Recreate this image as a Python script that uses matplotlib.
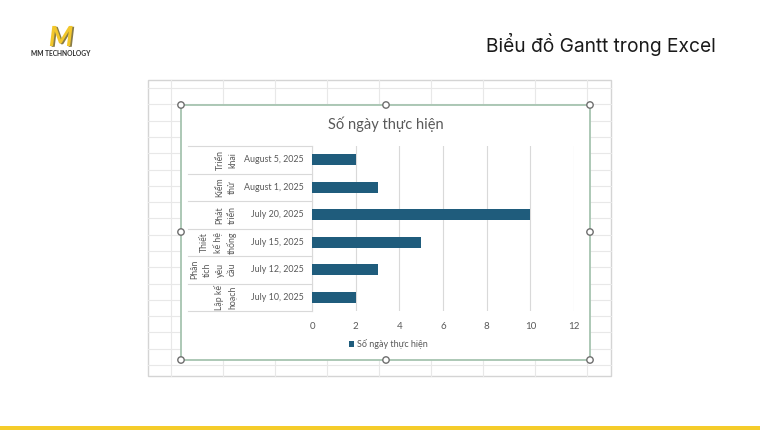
import matplotlib
matplotlib.use('Agg')
import matplotlib.pyplot as plt
import matplotlib.patches as mpatches
import matplotlib.patheffects as pe
import numpy as np

plt.rcParams['font.family'] = ['Lato', 'DejaVu Sans']

# data (bottom to top)
task_labels = ['Lập kế\nhoạch', 'Phân\ntích\nyêu\ncầu', 'Thiết\nkế hệ\nthống',
               'Phát\ntriển', 'Kiểm\nthử', 'Triển\nkhai']
start_dates = ['July 10, 2025', 'July 12, 2025', 'July 15, 2025',
               'July 20, 2025', 'August 1, 2025', 'August 5, 2025']
durations = [2, 3, 5, 10, 3, 2]
x_ticks = [0, 2, 4, 6, 8, 10, 12]
series_name = 'Số ngày thực hiện'
chart_title = 'Số ngày thực hiện'
page_title = 'Biểu đồ Gantt trong Excel'

W, H = 760, 430
bar_color = '#1f5c7c'
text_gray = '#595959'

fig = plt.figure(figsize=(W / 100, H / 100), dpi=100)

# background layer in pixel coordinates
bg = fig.add_axes([0, 0, 1, 1], zorder=0)
bg.set_xlim(0, W)
bg.set_ylim(H, 0)
bg.axis('off')

# excel sheet behind the chart
bg.add_patch(mpatches.Rectangle((148, 80), 463, 296, facecolor='white',
                                edgecolor='#d4d4d4', lw=1))
for gx in np.arange(171, 600, 52):
    bg.plot([gx, gx], [80, 376], color='#e8e8e8', lw=0.8)
for gy in np.arange(88, 376, 16.3):
    bg.plot([148, 611], [gy, gy], color='#e8e8e8', lw=0.8)

# chart frame with selection handles
bg.add_patch(mpatches.Rectangle((181, 105), 409, 255, facecolor='white',
                                edgecolor='#a6c4b0', lw=1.3, zorder=2))
for hx, hy in [(181, 105), (386, 105), (590, 105), (181, 232), (590, 232),
               (181, 360), (386, 360), (590, 360)]:
    bg.add_patch(mpatches.Circle((hx, hy), 3.2, facecolor='white',
                                 edgecolor='#6e6e6e', lw=1, zorder=3))

bg.text(386, 124, chart_title, ha='center', va='center', fontsize=10.5,
        color=text_gray, zorder=4)

# page header
bg.text(716, 45, page_title, ha='right', va='center', fontsize=13.8,
        color='#1a1a1a', family=['Inter', 'DejaVu Sans'])
bg.text(61, 38, 'M', ha='center', va='center', fontsize=20, fontweight='bold',
        fontstyle='italic', color='#f2c72c',
        path_effects=[pe.withSimplePatchShadow(offset=(1.2, -0.6),
                                               shadow_rgbFace='#6b5a1a', alpha=0.8)])
bg.text(61, 54, 'MM TECHNOLOGY', ha='center', va='center', fontsize=4.8,
        fontweight='bold', color='#2b2b2b')

# yellow band at the bottom
bg.add_patch(mpatches.Rectangle((0, 425.5), W, 4.5, facecolor='#f5cc2a',
                                edgecolor='none'))

# plot area
px0, px1, py0, py1 = 312, 574, 146, 311
ax = fig.add_axes([px0 / W, 1 - py1 / H, (px1 - px0) / W, (py1 - py0) / H],
                  zorder=5)
ax.set_facecolor('none')

y = np.arange(len(durations))
ax.barh(y, durations, height=0.4, color=bar_color, label=series_name, zorder=3)

ax.set_xlim(0, 12)
ax.set_ylim(-0.5, len(durations) - 0.5)
ax.set_xticks(x_ticks)
ax.set_xticklabels([str(t) for t in x_ticks])
ax.tick_params(axis='x', length=0, pad=8, labelsize=7, labelcolor=text_gray)
ax.set_yticks([])
ax.grid(axis='x', color='#d9d9d9', lw=0.8, zorder=0)
for s in ['top', 'right', 'bottom']:
    ax.spines[s].set_visible(False)
ax.spines['left'].set_color('#d9d9d9')
ax.spines['left'].set_linewidth(0.8)

# multi-level category axis drawn as a little table
tr = ax.get_yaxis_transform()
x_left = (188 - px0) / (px1 - px0)
x_date = (304 - px0) / (px1 - px0)
x_task = (237 - px0) / (px1 - px0)
for b in np.arange(-0.5, len(durations), 1.0):
    ax.plot([x_left, 0], [b, b], transform=tr, color='#d9d9d9', lw=0.8,
            clip_on=False)
for yi, (lab, d) in enumerate(zip(task_labels, start_dates)):
    ax.text(x_date, yi, d, transform=tr, ha='right', va='center', fontsize=6.4,
            color=text_gray)
    ax.text(x_task, yi, lab, transform=tr, ha='right', va='center',
            rotation=90, fontsize=6.3, color=text_gray, multialignment='center',
            linespacing=1.5)

leg = ax.legend(loc='center', bbox_to_anchor=(388 / W, 1 - 344 / H),
                bbox_transform=fig.transFigure, frameon=False, fontsize=6.5,
                handlelength=0.6, handleheight=0.6, handletextpad=0.3)
for t in leg.get_texts():
    t.set_color(text_gray)

fig.savefig('out.png', dpi=100)
